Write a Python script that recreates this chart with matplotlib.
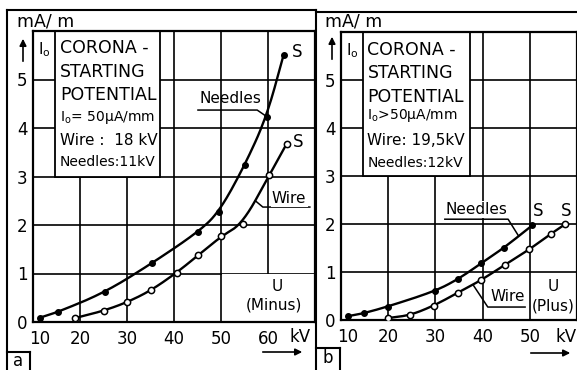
import numpy as np
import matplotlib.pyplot as plt
from matplotlib.patches import Rectangle, FancyArrowPatch
from matplotlib.lines import Line2D

# panel a: minus polarity
a_needles_kv = [11.5, 15.4, 25.3, 35.3, 45.2, 49.6, 55.1, 59.7, 63.3]
a_needles_ma = [0.09, 0.21, 0.61, 1.21, 1.86, 2.27, 3.24, 4.23, 5.5]
a_wire_kv = [18.9, 25.0, 30.1, 35.1, 40.6, 45.2, 50.1, 54.6, 60.3, 64.0]
a_wire_ma = [0.08, 0.23, 0.41, 0.65, 1.02, 1.38, 1.77, 2.03, 3.03, 3.68]

# panel b: plus polarity
b_needles_kv = [11.5, 14.8, 19.9, 29.9, 34.8, 39.7, 44.6, 50.5]
b_needles_ma = [0.08, 0.14, 0.28, 0.6, 0.85, 1.18, 1.51, 1.97]
b_wire_kv = [19.9, 24.7, 29.7, 34.8, 39.7, 44.7, 49.9, 54.4, 57.4]
b_wire_ma = [0.04, 0.1, 0.3, 0.57, 0.83, 1.15, 1.47, 1.79, 1.99]

a_xticks = [10, 20, 30, 40, 50, 60]
b_xticks = [10, 20, 30, 40, 50]
yticks = [0, 1, 2, 3, 4, 5]

a_box = ["CORONA -", "STARTING", "POTENTIAL", r"I$_\mathrm{o}$= 50µA/mm",
         "Wire :  18 kV", "Needles:11kV"]
b_box = ["CORONA -", "STARTING", "POTENTIAL", r"I$_\mathrm{o}$>50µA/mm",
         "Wire: 19,5kV", "Needles:12kV"]
box_sizes = [12.5, 12.5, 12.5, 10, 11, 10]

W, H = 577, 370
FS = 11


def fx(x):
    return x / W


def fy(y):
    return 1 - y / H


def fig_line(fig, x0, y0, x1, y1, lw=1.5):
    fig.add_artist(Line2D([fx(x0), fx(x1)], [fy(y0), fy(y1)], color="black",
                          lw=lw, transform=fig.transFigure))


def chaikin(x, y, n=4):
    # corner cutting, gives a smooth line close to the measured points
    pts = np.column_stack([x, y]).astype(float)
    for _ in range(n):
        q = 0.75 * pts[:-1] + 0.25 * pts[1:]
        r = 0.25 * pts[:-1] + 0.75 * pts[1:]
        new = np.empty((2 * len(q), 2))
        new[0::2] = q
        new[1::2] = r
        pts = np.vstack([pts[0], new, pts[-1]])
    return pts[:, 0], pts[:, 1]


def curve(ax, kv, ma, filled):
    xs, ys = chaikin(kv, ma)
    ax.plot(xs, ys, color="black", lw=1.7, zorder=3)
    if filled:
        ax.plot(kv, ma, "o", ms=4, color="black", zorder=4)
    else:
        ax.plot(kv, ma, "o", ms=4.5, mfc="white", mec="black", mew=1.1, zorder=4)


def panel(ax, xmax, vlines, box_x, lines, line_y, xticks, xlab_pos):
    ax.set_xlim(10, xmax)
    ax.set_ylim(0, 6)
    for s in ax.spines.values():
        s.set_linewidth(1.6)
    for v in vlines:
        ax.axvline(v, color="black", lw=1.2, zorder=1)
    for h in [1, 2, 3, 4, 5]:
        ax.axhline(h, color="black", lw=1.2, zorder=1)
    ax.add_patch(Rectangle((box_x[0], 3), box_x[1] - box_x[0], 3.2, fc="white",
                           ec="black", lw=1.3, zorder=2))
    ax.text(11.0, 5.62, r"I$_\mathrm{o}$", fontsize=FS, ha="left", va="center", zorder=5)
    for t, yy, fs in zip(lines, line_y, box_sizes):
        ax.text(box_x[0] + 1.0, yy, t, fontsize=fs, ha="left", va="center", zorder=5)
    ax.set_xticks(xlab_pos)
    ax.set_xticklabels([str(t) for t in xticks], fontsize=12)
    ax.set_yticks(yticks)
    ax.set_yticklabels([str(t) for t in yticks], fontsize=12)
    ax.tick_params(length=0, pad=4)
    ax.tick_params(axis="x", pad=6)


fig = plt.figure(figsize=(W / 100, H / 100), dpi=100)

# panel a
ax1 = fig.add_axes([fx(33), fy(322), (315 - 33) / W, (322 - 31) / H])
panel(ax1, 70, [20, 30, 40, 50, 60], (14.7, 37.0), a_box,
      [5.65, 5.15, 4.68, 4.21, 3.75, 3.30], a_xticks, [11.5, 20, 30, 40, 50, 60])
ax1.add_patch(Rectangle((50.3, 0.03), 19.6, 0.95, fc="white", ec="none", zorder=1.5))
curve(ax1, a_needles_kv, a_needles_ma, True)
curve(ax1, a_wire_kv, a_wire_ma, False)
ax1.text(66.2, 5.57, "S", fontsize=12, ha="center", va="center")
ax1.text(66.4, 3.71, "S", fontsize=12, ha="center", va="center")
ax1.text(52.0, 4.6, "Needles", fontsize=FS, ha="center", va="center", zorder=5)
ax1.plot([45.1, 57.7, 59.8], [4.37, 4.37, 4.23], color="black", lw=1.1, zorder=3)
ax1.text(64.5, 2.55, "Wire", fontsize=FS, ha="center", va="center", zorder=5,
         bbox=dict(fc="white", ec="none", pad=1))
ax1.plot([57.3, 58.9, 68.9], [2.5, 2.37, 2.37], color="black", lw=1.1, zorder=3)
ax1.text(61.9, 0.74, "U", fontsize=FS, ha="center", va="center")
ax1.text(61.2, 0.35, "(Minus)", fontsize=FS, ha="center", va="center")

# panel b
ax2 = fig.add_axes([fx(341), fy(320), (577 - 341) / W, (320 - 32) / H])
panel(ax2, 60, [20, 30, 40, 50], (14.6, 37.4), b_box,
      [5.62, 5.15, 4.65, 4.25, 3.73, 3.27], b_xticks, [11.5, 20, 30, 40, 50])
curve(ax2, b_needles_kv, b_needles_ma, True)
curve(ax2, b_wire_kv, b_wire_ma, False)
ax2.text(51.8, 2.27, "S", fontsize=12, ha="center", va="center")
ax2.text(57.7, 2.27, "S", fontsize=12, ha="center", va="center")
ax2.text(38.6, 2.3, "Needles", fontsize=FS, ha="center", va="center", zorder=5,
         bbox=dict(fc="white", ec="none", pad=1))
ax2.plot([32.0, 45.4, 47.5], [2.1, 2.1, 1.77], color="black", lw=1.1, zorder=3)
ax2.text(45.3, 0.48, "Wire", fontsize=FS, ha="center", va="center", zorder=5,
         bbox=dict(fc="white", ec="none", pad=1))
ax2.plot([38.0, 41.1, 49.0], [0.73, 0.27, 0.27], color="black", lw=1.1, zorder=3)
ax2.text(55.0, 0.69, "U", fontsize=FS, ha="center", va="center")
ax2.text(55.0, 0.29, "(Plus)", fontsize=FS, ha="center", va="center")

# frames, units and arrows
fig_line(fig, 7, 10, 316, 10)
fig_line(fig, 7, 10, 7, 370)
fig_line(fig, 316, 10, 316, 370)
fig_line(fig, 316, 12, 577, 12)
fig_line(fig, 7, 352, 30, 352)
fig_line(fig, 30, 352, 30, 370)
fig_line(fig, 316, 348, 340, 348)
fig_line(fig, 340, 348, 340, 370)
fig.text(fx(18), fy(361), "a", fontsize=12, ha="center", va="center")
fig.text(fx(328), fy(358), "b", fontsize=12, ha="center", va="center")
fig.text(fx(17), fy(22), "mA/ m", fontsize=12.5, ha="left", va="center")
fig.text(fx(325), fy(22), "mA/ m", fontsize=12.5, ha="left", va="center")
fig.text(fx(300), fy(337), "kV", fontsize=12, ha="center", va="center")
fig.text(fx(566), fy(337), "kV", fontsize=12, ha="center", va="center")
for (x0, y0, x1, y1) in [(23, 64, 23, 36), (332, 62, 332, 34),
                         (260, 352, 305, 352), (528, 353, 573, 353)]:
    fig.add_artist(FancyArrowPatch(
        (fx(x0), fy(y0)), (fx(x1), fy(y1)), transform=fig.transFigure,
        arrowstyle="-|>,head_length=4,head_width=2", color="black", lw=1.2))

fig.savefig("out.png", dpi=100)
